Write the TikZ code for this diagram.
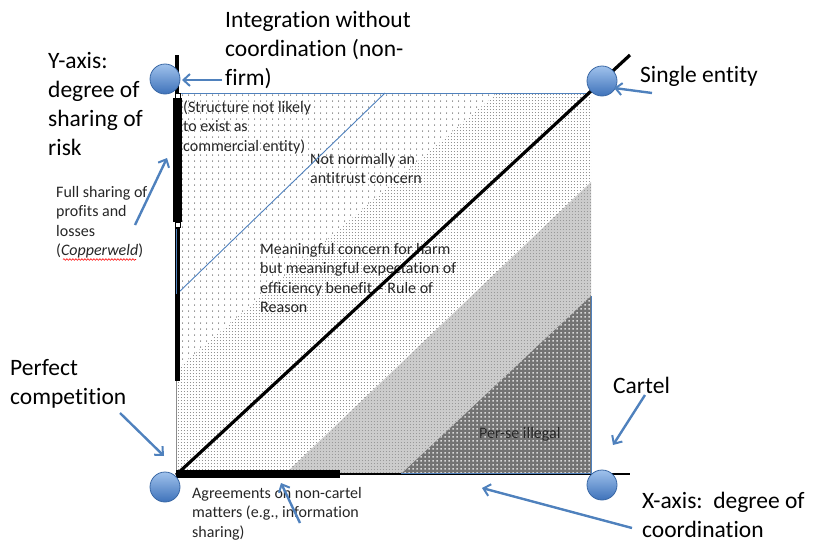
\documentclass[tikz,border=0pt]{standalone}
\usepackage{fontspec}
\setmainfont{Carlito}[Ligatures=NoCommon]
\usetikzlibrary{arrows.meta,patterns.meta,decorations.pathmorphing}

\definecolor{arrowblue}{RGB}{79,129,189}
\definecolor{ballhi}{RGB}{160,194,236}
\definecolor{balllo}{RGB}{62,114,186}
\definecolor{ballrim}{RGB}{58,104,165}

\tikzdeclarepattern{
  name=sparsedots, type=uncolored,
  bounding box={(0pt,0pt) and (6pt,6.4pt)},
  tile size={(6pt,6.4pt)},
  code={\fill (3pt,3.2pt) circle (0.65pt);}
}
\tikzdeclarepattern{
  name=densedots, type=uncolored,
  bounding box={(0pt,0pt) and (3.3pt,3.3pt)},
  tile size={(3.3pt,3.3pt)},
  code={\fill (1.65pt,1.65pt) circle (0.55pt);}
}
\tikzdeclarepattern{
  name=bigspots, type=uncolored,
  bounding box={(0pt,0pt) and (4pt,4pt)},
  tile size={(4pt,4pt)},
  code={\fill (0.6pt,0.6pt) rectangle (2.2pt,2.2pt);}
}

\begin{document}
\begin{tikzpicture}[x=1pt,y=-1pt,
  bigtxt/.style={font=\fontsize{23.5}{29}\selectfont, align=left, anchor=base west, inner sep=0pt},
  smalltxt/.style={font=\fontsize{16}{19.5}\selectfont, align=left, anchor=base west, inner sep=0pt, text=black!85},
  ball/.style={circle, minimum size=30pt, inner sep=0pt, top color=ballhi, bottom color=balllo, draw=ballrim, line width=0.8pt},
  pointer/.style={draw=arrowblue, line width=2.4pt, -{Straight Barb[length=6.5pt,width=12pt,line width=2pt]}}
]
\useasboundingbox (0,0) rectangle (830,546);

% ---- regions ----
\fill[white] (176,93) rectangle (591,474);
\path[pattern=sparsedots, pattern color=black!80] (176,93) rectangle (591,474);
\fill[white] (176,370) -- (497,93) -- (591,93) -- (591,474) -- (176,474) -- cycle;
\path[pattern=densedots, pattern color=black!75] (176,370) -- (497,93) -- (591,93) -- (591,474) -- (176,474) -- cycle;
\fill[black!20] (285,474) -- (591,182) -- (591,474) -- cycle;
\path[pattern=densedots, pattern color=black!55] (285,474) -- (591,182) -- (591,474) -- cycle;
\fill[black!55] (401,474) -- (591,296) -- (591,474) -- cycle;
\path[pattern=bigspots, pattern color=white!85!black] (401,474) -- (591,296) -- (591,474) -- cycle;

% ---- texts inside (anchor = baseline of last line) ----
\node[smalltxt] (structure) at (183,151) {(Structure not likely\\to exist as\\commercial entity)};
\node[smalltxt] (notnormal) at (310,183.5) {Not normally an\\antitrust concern};
\node[smalltxt] (meaningful) at (260,312.5) {Meaningful concern for harm\\but meaningful expectation of\\efficiency benefit – Rule of\\Reason};
\node[smalltxt] (perse) at (479,438) {Per-se illegal};

% ---- lines ----
\draw[arrowblue, line width=0.9pt] (176,93) -- (590,93);
\draw[arrowblue, line width=0.9pt] (177,294) -- (385,93);
\draw[black!45, line width=0.8pt] (176.5,380) -- (176.5,474);
\draw[black, line width=2pt] (176,474) -- (630,474);
\draw[arrowblue, line width=1pt] (401,473.5) -- (591,473.5) -- (591,296);
\draw[black, line width=8pt] (176,474) -- (340,474);
\draw[black, line width=3.2pt] (176,475) -- (630,55);
% left axis bar
\draw[black, line width=4pt] (177,55) -- (177,94);
\draw[black, line width=8.5pt] (177.5,98) -- (177.5,222);
\draw[black, line width=5pt] (177.5,228) -- (177.5,381);
\draw[arrowblue, line width=1pt] (176.5,229) -- (176.5,294);
\draw[black, fill=white, line width=0.6pt] (175,93.5) rectangle (180,98.5);
\draw[black, fill=white, line width=0.6pt] (175,222.5) rectangle (180,227.5);

% ---- balls ----
\node[ball] (tl) at (165,79) {};
\node[ball] (tr) at (602,81) {};
\node[ball] (bl) at (165,487) {};
\node[ball] (br) at (602,485) {};

% ---- outer texts (anchor = baseline of last line) ----
\node[bigtxt] (integration) at (225,85) {Integration without\\coordination (non-\\firm)};
\node[bigtxt] (yaxis) at (48,155) {Y-axis:\\degree of\\sharing of\\risk};
\node[smalltxt] (fullsharing) at (56,255.5) {Full sharing of\\profits and\\losses\\(\textit{Copperweld})};
\node[bigtxt] (perfect) at (10,404) {Perfect\\competition};
\node[bigtxt] (cartel) at (613,393) {Cartel};
\node[bigtxt] (single) at (640,82) {Single entity};
\node[bigtxt] (xaxis) at (642,537) {X-axis:\ \ degree of\\coordination};
\node[smalltxt] (agreements) at (192,537) {Agreements on non-cartel\\matters (e.g., information\\sharing)};

\draw[red, line width=0.6pt, decorate, decoration={snake, amplitude=0.8pt, segment length=3pt}] (63,259.5) -- (136,259.5);

% ---- pointer arrows ----
\coordinate (a1s) at (222,80);  \coordinate (a1e) at (182,80);
\coordinate (a2s) at (652,93);  \coordinate (a2e) at (614,88);
\coordinate (a3s) at (135,225); \coordinate (a3e) at (167,158);
\coordinate (a4s) at (120,413); \coordinate (a4e) at (164,456);
\coordinate (a5s) at (645,395); \coordinate (a5e) at (613,445);
\coordinate (a6s) at (632,528); \coordinate (a6e) at (482,488);
\coordinate (a7s) at (300,523); \coordinate (a7e) at (281,483);
\draw[pointer] (a1s) -- (a1e);
\draw[pointer] (a2s) -- (a2e);
\draw[pointer] (a3s) -- (a3e);
\draw[pointer] (a4s) -- (a4e);
\draw[pointer] (a5s) -- (a5e);
\draw[pointer] (a6s) -- (a6e);
\draw[pointer] (a7s) -- (a7e);
\end{tikzpicture}
\end{document}
